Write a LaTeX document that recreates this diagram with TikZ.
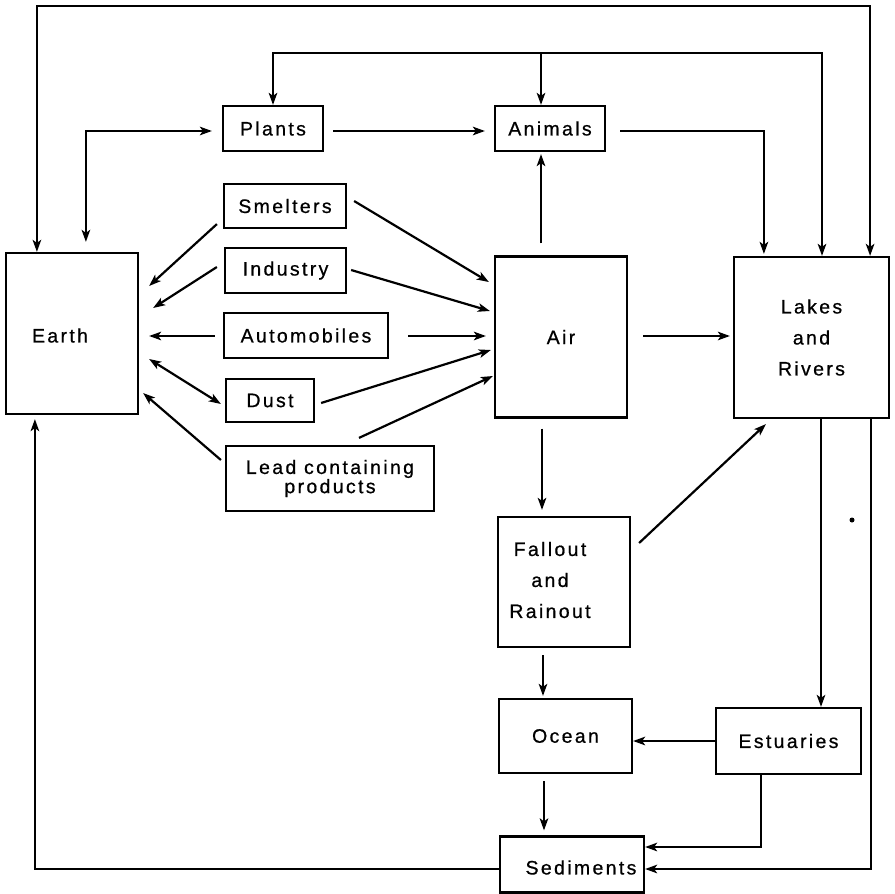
\documentclass[tikz,border=0pt]{standalone}
\usepackage{fontspec}
\setmainfont{Liberation Sans}[LetterSpace=12,FakeBold=0.7]
\usetikzlibrary{arrows.meta,calc}

\begin{document}
\begin{tikzpicture}[x=1pt,y=-1pt,
  box/.style={draw, line width=2.2pt, inner sep=0pt, align=center,
    font=\fontsize{19.5}{31}\selectfont},
  lbl/.style={inner sep=0pt, align=center, font=\fontsize{19.5}{31}\selectfont},
  tip/.tip={Stealth[length=12pt,width=8.5pt,inset=3pt]},
  flow/.style={line width=2.2pt, -tip},
  both/.style={line width=2.2pt, tip-tip},
]
\useasboundingbox (0,0) rectangle (895,894);

% ---- compartments ----
\node[box, minimum width=132pt, minimum height=161pt] (earth) at (72,333.5) {};
\node[lbl] (earth-t) at ($(earth.center)+(-12,2)$) {Earth};
\node[box, minimum width=100pt, minimum height=45pt] (plants) at (273,128.5) {Plants};
\node[box, minimum width=122pt, minimum height=44pt] (smelters) at (285,206) {Smelters};
\node[box, minimum width=121pt, minimum height=45pt] (industry) at (285.5,270.5) {Industry};
\node[box, minimum width=164pt, minimum height=45pt] (autos) at (306,335.5) {Automobiles};
\node[box, minimum width=88pt, minimum height=43pt] (dust) at (270,400.5) {Dust};
\node[box, minimum width=208pt, minimum height=65pt,
  font=\fontsize{19.5}{17}\selectfont] (lead) at (330,478.5) {Lead containing\\products};
\node[box, minimum width=110pt, minimum height=45pt] (animals) at (550,128.5) {Animals};
\node[box, minimum width=132pt, minimum height=161pt] (air) at (561,337) {Air};
\node[box, minimum width=155pt, minimum height=161pt] (lakes) at (811.5,337.5) {Lakes\\and\\Rivers};
\node[box, minimum width=132pt, minimum height=130pt] (fallout) at (564,582) {};
\node[lbl] (fallout-t) at ($(fallout.center)+(-14,-2)$) {Fallout\\and\\Rainout};
\node[box, minimum width=133pt, minimum height=74pt] (ocean) at (565.5,736) {Ocean};
\node[box, minimum width=145pt, minimum height=66pt] (estuaries) at (788.5,741) {Estuaries};
\node[box, minimum width=144pt, minimum height=56pt] (sediments) at (572,864.5) {};
\node[lbl] (sediments-t) at ($(sediments.center)+(9,3)$) {Sediments};

% ---- overhead return lines ----
\coordinate (topline) at (0,6);
\coordinate (busline) at (0,53);
\coordinate (e-top) at ($(earth.north west)+(32,0)$);
\coordinate (l-top) at ($(lakes.north east)+(-20,0)$);
\draw[both] (e-top) -- (e-top |- topline) -- (l-top |- topline) -- (l-top);

\coordinate (a-top) at ($(animals.north)+(-9,0)$);
\coordinate (l-mid) at ($(lakes.north)+(10.5,0)$);
\draw[both] (plants.north) -- (plants.north |- busline) -- (l-mid |- busline) -- (l-mid);
\draw[flow] (a-top |- busline) -- (a-top);

% ---- biota ----
\draw[both] ($(earth.north west)+(81,-10)$) |- ($(plants.west)+(-10,2.5)$);
\draw[flow] ($(plants.east)+(9,2.5)$) -- ($(animals.west)+(-9,2.5)$);
\draw[flow] ($(animals.east)+(14,2.5)$) -| ($(lakes.north west)+(31,-2)$);
\draw[flow] ($(air.north)+(-20,-12)$) -- ($(animals.south)+(-9,2)$);

% ---- sources to Earth and Air ----
\draw[flow] ($(smelters.south west)+(-6,-5)$) -- ($(earth.east)+(10,-47.5)$);
\draw[flow] ($(smelters.east)+(7,-5)$) -- ($(air.west)+(-5,-55)$);
\draw[flow] ($(industry.west)+(-7,-3.5)$) -- ($(earth.east)+(14,-25.5)$);
\draw[flow] ($(industry.east)+(4,-0.5)$) -- ($(air.west)+(-4,-26)$);
\draw[flow] ($(autos.west)+(-8,0.5)$) -- ($(earth.east)+(10,2.5)$);
\draw[flow] ($(autos.east)+(19,0.5)$) -- ($(air.west)+(-8,-1)$);
\draw[both] ($(earth.east)+(10,25.5)$) -- ($(dust.west)+(-4,3.5)$);
\draw[flow] ($(dust.east)+(6,2.5)$) -- ($(air.west)+(-3,13)$);
\draw[flow] ($(lead.west)+(-4,-18.5)$) -- ($(earth.east)+(4,59.5)$);
\draw[flow] ($(lead.north)+(29,-7)$) -- ($(air.west)+(-1,39)$);

% ---- atmosphere to waters ----
\draw[flow] ($(air.east)+(15,-1)$) -- ($(lakes.west)+(-3,-1.5)$);
\draw[flow] ($(air.south)+(-19,10)$) -- ($(fallout.north)+(-22,-6)$);
\draw[flow] ($(fallout.east)+(8,-39)$) -- ($(lakes.south west)+(33,5)$);
\draw[flow] ($(fallout.south)+(-21,7)$) -- ($(ocean.north)+(-22.5,-2)$);

% ---- waters to sediments and back to Earth ----
\draw[flow] ($(lakes.south)+(9.5,0)$) -- ($(estuaries.north)+(32.5,0)$);
\draw[flow] ($(lakes.south east)+(-19,0)$) |- ($(sediments.east)+(0,4.5)$);
\draw[flow] (estuaries.west) -- ($(ocean.east)+(0,5)$);
\draw[flow] ($(ocean.south)+(-21.5,7)$) -- ($(sediments.north)+(-28,-5)$);
\draw[flow] ($(estuaries.south)+(-27.5,0)$) |- ($(sediments.east)+(0,-17.5)$);
\draw[flow] ($(sediments.west)+(0,4.5)$) -| ($(earth.south west)+(30,4)$);

\fill (852,520) circle (2.5pt);
\end{tikzpicture}
\end{document}
